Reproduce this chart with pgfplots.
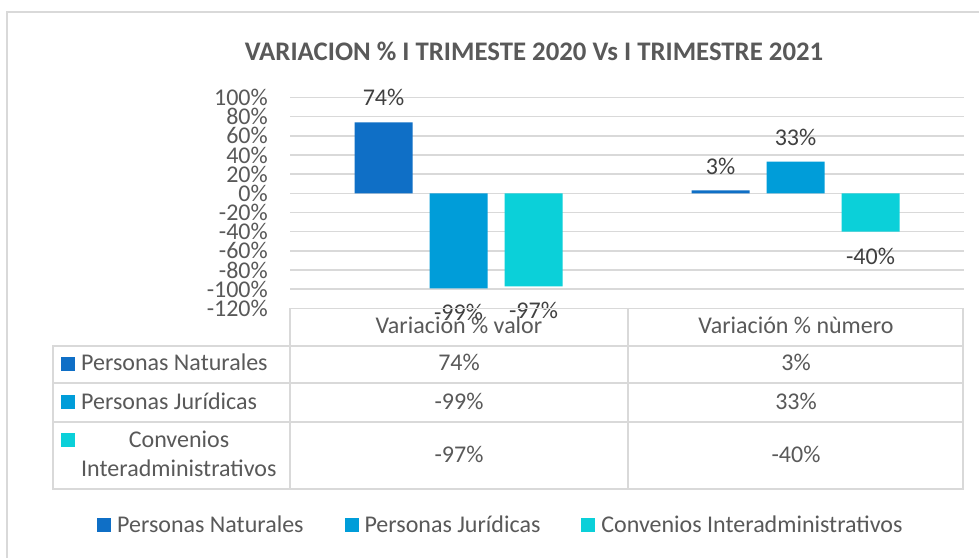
\documentclass[border=0pt]{standalone}
\usepackage{pgfplots}
\pgfplotsset{compat=1.18}
\usepackage{fontspec}
\setmainfont{Carlito}
\definecolor{cPN}{HTML}{0F6FC6}
\definecolor{cPJ}{HTML}{009DD9}
\definecolor{cCI}{HTML}{0BD0D9}
\definecolor{txt}{HTML}{595959}
\definecolor{lbl}{HTML}{404040}
\definecolor{grd}{HTML}{D9D9D9}
\newcommand\fs{\fontsize{24bp}{28bp}\selectfont}
\pgfplotsset{sq/.style={legend image code/.code={\fill[##1] (0bp,-7bp) rectangle (14bp,7bp);}}}
\begin{document}
\begin{tikzpicture}
\begin{scope}[x=1bp,y=-1bp]
\useasboundingbox (0,0) rectangle (979,558);
\fill[white] (0,0) rectangle (979,558);
\draw[grd, line width=1.5bp] (7,562) -- (7,12) -- (985,12);
\node[anchor=base, inner sep=0pt, font=\fontsize{26.8bp}{32bp}\selectfont\bfseries, text=txt] at (534,61) {VARIACION \% I TRIMESTE 2020 Vs I TRIMESTRE 2021};
\end{scope}
\begin{axis}[
  at={(290bp,-308.4bp)}, anchor=south west,
  width=674bp, height=211bp, scale only axis,
  xmin=-0.5, xmax=1.5, ymin=-120, ymax=100,
  enlargelimits=false,
  ybar=17bp, bar width=58bp,
  axis line style={draw=none}, tick style={draw=none},
  xtick=\empty,
  ytick={-120,-100,...,100},
  ymajorgrids, major grid style={grd, line width=1.5bp},
  /pgf/number format/assume math mode=true,
  yticklabel={\pgfmathprintnumber{\tick}\%},
  yticklabel style={inner sep=0pt, xshift=-22bp, font=\fs, text=txt},
  nodes near coords={\pgfmathprintnumber[fixed,precision=0]{\pgfplotspointmeta}\%},
  nodes near coords style={font=\fs, text=lbl, inner xsep=0pt, inner ysep=16bp},
  legend columns=3,
  legend style={at={(axis description cs:-0.2864,-1.0265)}, anchor=west,
    draw=none, fill=none, inner sep=0pt, font=\fs, text=txt,
    nodes={inner sep=0pt},
    /tikz/every odd column/.append style={column sep=6bp},
    /tikz/every even column/.append style={column sep=41bp}},
  legend cell align=left,
]
\addplot[fill=cPN, draw=none, sq] coordinates {(0,74) (1,3)};
\addplot[fill=cPJ, draw=none, sq] coordinates {(0,-99) (1,33)};
\addplot[fill=cCI, draw=none, sq] coordinates {(0,-97) (1,-40)};
\legend{Personas Naturales, Personas Jurídicas, Convenios Interadministrativos}
\end{axis}
\begin{scope}[x=1bp,y=-1bp]
\draw[grd, line width=1.5bp] (290,308.4) -- (963,308.4) -- (963,489) -- (53,489) -- (53,346) -- (963,346);
\draw[grd, line width=1.5bp] (53,383) -- (963,383) (53,422) -- (963,422)
  (290,308.4) -- (290,489) (628,308.4) -- (628,489);
\begin{scope}[every node/.style={font=\fs, text=txt, inner sep=0pt, anchor=base}]
\node at (459,334) {Variación \% valor};
\node at (796,334) {Variación \% nùmero};
\node at (459,371) {74\%};
\node at (796,371) {3\%};
\node at (459,409) {-99\%};
\node at (796,409) {33\%};
\node at (459,462) {-97\%};
\node at (796,462) {-40\%};
\node[anchor=base west] at (81,371) {Personas Naturales};
\node[anchor=base west] at (81,409) {Personas Jurídicas};
\node at (179,447) {Convenios};
\node[anchor=base west] at (81,476) {Interadministrativos};
\end{scope}
\fill[cPN] (61,357) rectangle (75,371);
\fill[cPJ] (61,395) rectangle (75,409);
\fill[cCI] (61,433) rectangle (75,447);
\end{scope}
\end{tikzpicture}
\end{document}
